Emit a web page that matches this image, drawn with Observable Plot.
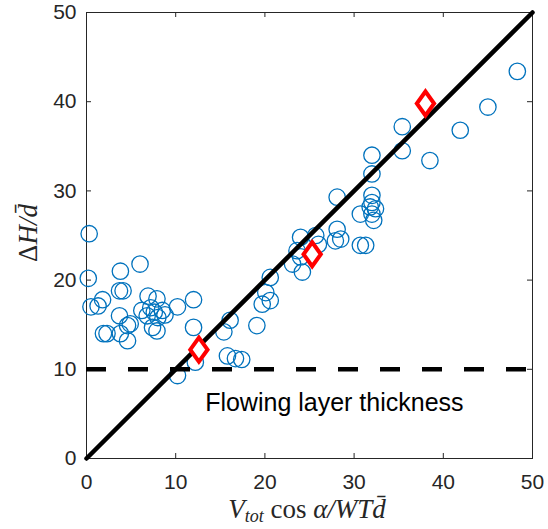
<!DOCTYPE html>
<html>
<head>
<meta charset="utf-8">
<script src="https://cdn.jsdelivr.net/npm/d3@7"></script>
<script src="https://cdn.jsdelivr.net/npm/@observablehq/plot@0.6"></script>
<style>
  html, body { margin: 0; padding: 0; background: #fff; }
  #chart { width: 548px; height: 529px; }
</style>
</head>
<body>
<div id="chart"></div>
<script>
// Measured data (circles)
const circleX = [0.3,0.2,0.5,1.3,1.8,3.8,6.0,3.7,4.1,6.9,7.9,10.2,12.0,
  3.7,6.2,7.2,7.6,8.5,8.8,6.8,8.0,
  1.9,2.3,3.8,4.6,4.9,4.6,7.4,7.9,12.0,12.2,10.2,
  16.1,15.4,19.1,15.8,16.7,17.4,19.7,20.6,20.1,20.6,
  23.1,24.2,24.0,23.6,24.0,25.7,26.0,
  28.1,28.1,28.5,27.9,30.7,31.3,
  32.0,32.0,32.0,32.0,31.8,32.4,30.7,32.0,32.2,
  35.4,35.4,38.5,41.9,45.0,48.3];
const circleY = [25.2,20.2,17.0,17.1,17.8,21.0,21.8,18.8,18.8,18.2,17.9,17.0,17.8,
  16.0,16.6,16.9,16.4,16.6,16.1,16.0,15.8,
  14.0,14.0,14.0,14.9,15.1,13.2,14.7,14.3,14.7,10.8,9.3,
  15.5,14.2,14.9,11.5,11.2,11.1,17.3,17.7,18.6,20.3,
  21.8,20.9,22.6,23.3,24.8,25.0,24.0,
  29.3,25.7,24.6,24.4,23.9,23.9,
  34.0,31.9,29.5,28.7,28.2,28.0,27.4,27.4,26.7,
  37.2,34.5,33.4,36.8,39.4,43.4];
// Highlighted diamonds
const diamondX = [12.6, 25.3, 38.0];
const diamondY = [12.2, 22.9, 39.8];
// Reference lines
const identityX = [0, 50];
const thicknessLevel = [10];
// Ticks
const xTicks = [0, 10, 20, 30, 40, 50];
const yTicks = [0, 10, 20, 30, 40, 50];
// Annotation
const annotationText = ["Flowing layer thickness"];
const annotationX = [13.3];
const annotationY = [6.2];

const circles = circleX.map((x, i) => ({x, y: circleY[i]}));
const diamonds = diamondX.map((x, i) => ({x, y: diamondY[i]}));
const identity = identityX.map(v => ({x: v, y: v}));
const annotation = annotationText.map((t, i) => ({t, x: annotationX[i], y: annotationY[i]}));

const W = 548, H = 529;
const mL = 86, mR = 16, mT = 12, mB = 71;
const innerW = W - mL - mR, innerH = H - mT - mB;
const axisColor = "#262626";
const tickLen = 5;

const diamondSymbol = {
  draw(context, size) {
    const r = Math.sqrt(size / Math.PI);
    const w = r * 0.72;
    context.moveTo(0, -r);
    context.lineTo(w, 0);
    context.lineTo(0, r);
    context.lineTo(-w, 0);
    context.closePath();
  }
};

const plot = Plot.plot({
  width: W,
  height: H,
  marginLeft: mL, marginRight: mR, marginTop: mT, marginBottom: mB,
  style: {fontFamily: "'Liberation Sans', Arial, Helvetica, sans-serif", background: "#fff"},
  x: {domain: [0, 50]},
  y: {domain: [0, 50]},
  marks: [
    Plot.frame({stroke: axisColor, strokeWidth: 1}),
    Plot.tickX(xTicks, {x: d => d, insetTop: innerH - tickLen, stroke: axisColor}),
    Plot.tickX(xTicks, {x: d => d, insetBottom: innerH - tickLen, stroke: axisColor}),
    Plot.tickY(yTicks, {y: d => d, insetRight: innerW - tickLen, stroke: axisColor}),
    Plot.tickY(yTicks, {y: d => d, insetLeft: innerW - tickLen, stroke: axisColor}),
    Plot.axisX(xTicks, {tickSize: 0, tickPadding: 16, fontSize: 21, label: null, fill: axisColor, tickFormat: d => String(d)}),
    Plot.axisY(yTicks, {tickSize: 0, tickPadding: 10, fontSize: 21, label: null, fill: axisColor, tickFormat: d => String(d)}),
    Plot.dot(circles, {x: "x", y: "y", r: 8.2, stroke: "#0072BD", strokeWidth: 1.3, fill: "none"}),
    Plot.ruleY(thicknessLevel, {y: d => d, x1: 0, x2: 50, stroke: "#000", strokeWidth: 4.5, strokeDasharray: "20,22"}),
    Plot.line(identity, {x: "x", y: "y", stroke: "#000", strokeWidth: 4.5}),
    Plot.dot(diamonds, {x: "x", y: "y", r: 12, symbol: diamondSymbol, stroke: "#ff0000", strokeWidth: 4, fill: "#fff"}),
    Plot.text(annotation, {x: "x", y: "y", text: "t", textAnchor: "start", fontSize: 25, fill: "#000"})
  ]
});

const svg = d3.select(plot);
const serif = "'Liberation Serif', 'Times New Roman', serif";
// X label
const xl = svg.append("text")
  .attr("x", mL + innerW / 2 - 2)
  .attr("y", 518)
  .attr("text-anchor", "middle")
  .attr("font-family", serif)
  .attr("font-size", 27)
  .attr("fill", axisColor);
xl.append("tspan").attr("font-style", "italic").text("V");
xl.append("tspan").attr("font-style", "italic").attr("font-size", 18).attr("dy", 4).text("tot");
xl.append("tspan").attr("dy", -4).text(" cos ");
xl.append("tspan").attr("font-style", "italic").text("α/WT");
xl.append("tspan").attr("font-style", "italic").text("d\u0304");
// Y label
const yl = svg.append("text")
  .attr("transform", `translate(37, ${233}) rotate(-90)`)
  .attr("text-anchor", "middle")
  .attr("font-family", serif)
  .attr("font-size", 27)
  .attr("fill", axisColor);
yl.append("tspan").text("Δ");
yl.append("tspan").attr("font-style", "italic").text("H/d\u0304");

document.getElementById("chart").appendChild(plot);
</script>
</body>
</html>
